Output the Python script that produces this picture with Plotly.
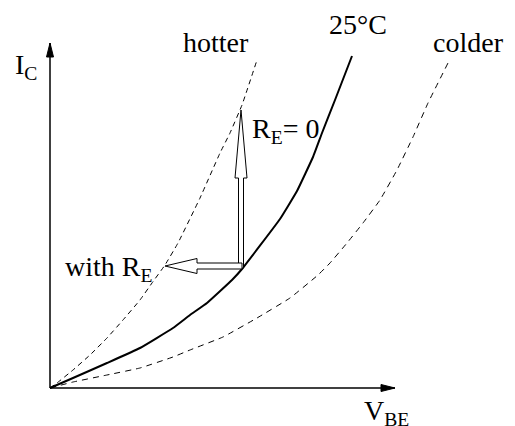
import numpy as np
import plotly.graph_objects as go

# ---- data (V_BE, I_C in arbitrary units) ----
vbe_25c = [0, 23, 57, 90, 123, 140, 157, 182, 192, 230, 247, 263, 272, 285, 302]
ic_25c = [0, 10, 25, 40, 60, 73, 85, 108, 119, 169, 197, 231, 255, 288, 332]

vbe_hot = [0, 7, 23, 40, 57, 73, 90, 102, 115, 128, 150, 170, 180, 192, 207]
ic_hot = [0, 5, 18, 33, 50, 68, 88, 105, 123, 145, 190, 235, 255, 283, 328]

vbe_cold = [0, 23, 57, 90, 123, 140, 173, 207, 240, 268, 280, 297, 313, 330, 347, 363, 378, 398]
ic_cold = [0, 6, 13, 20, 31, 38, 51, 70, 90, 113, 125, 145, 165, 188, 218, 251, 285, 325]

# operating point and arrows (start -> end)
arrow_re0 = [(191, 120), (191, 278)]      # R_E = 0 : straight up to hotter curve
arrow_re = [(192, 122), (115, 122)]       # with R_E : left to hotter curve

AX_END_X = 345
AX_END_Y = 345

FONT = "Liberation Serif"
fig = go.Figure()

def line(x, y, dash=None, width=1.0):
    fig.add_trace(go.Scatter(x=x, y=y, mode="lines",
                             line=dict(color="black", width=width, dash=dash, shape="spline", smoothing=0.3),
                             hoverinfo="skip", showlegend=False))

line(vbe_hot, ic_hot, dash="5px,4px", width=1)
line(vbe_cold, ic_cold, dash="6px,5px", width=1)
line(vbe_25c, ic_25c, width=2)

# axes with filled arrowheads
def axis_arrow(x0, y0, x1, y1, hl=14, hw=3.5):
    fig.add_trace(go.Scatter(x=[x0, x1], y=[y0, y1], mode="lines",
                             line=dict(color="black", width=1.5), hoverinfo="skip", showlegend=False))
    d = np.array([x1 - x0, y1 - y0], float); d /= np.linalg.norm(d)
    n = np.array([-d[1], d[0]])
    tip = np.array([x1, y1], float)
    b = tip - d * hl
    pts = [tip, b + n * hw, b - n * hw, tip]
    fig.add_trace(go.Scatter(x=[p[0] for p in pts], y=[p[1] for p in pts], mode="lines",
                             fill="toself", fillcolor="black", line=dict(color="black", width=1),
                             hoverinfo="skip", showlegend=False))

axis_arrow(0, 0, AX_END_X, 0)
axis_arrow(0, 0, 0, AX_END_Y)

# hollow arrows
def hollow_arrow(p0, p1, sw, hw, hl):
    p0 = np.array(p0, float); p1 = np.array(p1, float)
    d = p1 - p0; d /= np.linalg.norm(d)
    n = np.array([-d[1], d[0]])
    hb = p1 - d * hl
    pts = [p0 + n * sw, hb + n * sw, hb + n * hw, p1, hb - n * hw, hb - n * sw, p0 - n * sw, p0 + n * sw]
    fig.add_trace(go.Scatter(x=[p[0] for p in pts], y=[p[1] for p in pts], mode="lines",
                             fill="toself", fillcolor="white", line=dict(color="black", width=1),
                             hoverinfo="skip", showlegend=False))

hollow_arrow(arrow_re0[0], arrow_re0[1], sw=2.5, hw=6, hl=68)
hollow_arrow(arrow_re[0], arrow_re[1], sw=3, hw=7.5, hl=32)

def label(x, y, text, xanchor="center", size=28):
    fig.add_annotation(x=x, y=y, text=text, showarrow=False, xanchor=xanchor, yanchor="middle",
                       font=dict(family=FONT, size=size, color="black"))

label(166, 346, "hotter")
label(418, 346, "colder")
label(308, 364, "25°C")
label(-37, 322, "I<sub>C</sub>", xanchor="left")
label(200, 258, "R<sub>E</sub>= 0", xanchor="left")
label(13, 120, "with R<sub>E</sub>", xanchor="left")
label(312, -24, "V<sub>BE</sub>", xanchor="left")

# page body has an 8px margin: figure is 8px smaller and its ranges start 8px in
fig.update_layout(
    width=507, height=418,
    margin=dict(l=0, r=0, t=0, b=0),
    paper_bgcolor="white", plot_bgcolor="white",
    xaxis=dict(range=[-42, 465], visible=False, fixedrange=True),
    yaxis=dict(range=[-38, 380], visible=False, fixedrange=True),
    showlegend=False,
)
fig.write_html("out.html")
